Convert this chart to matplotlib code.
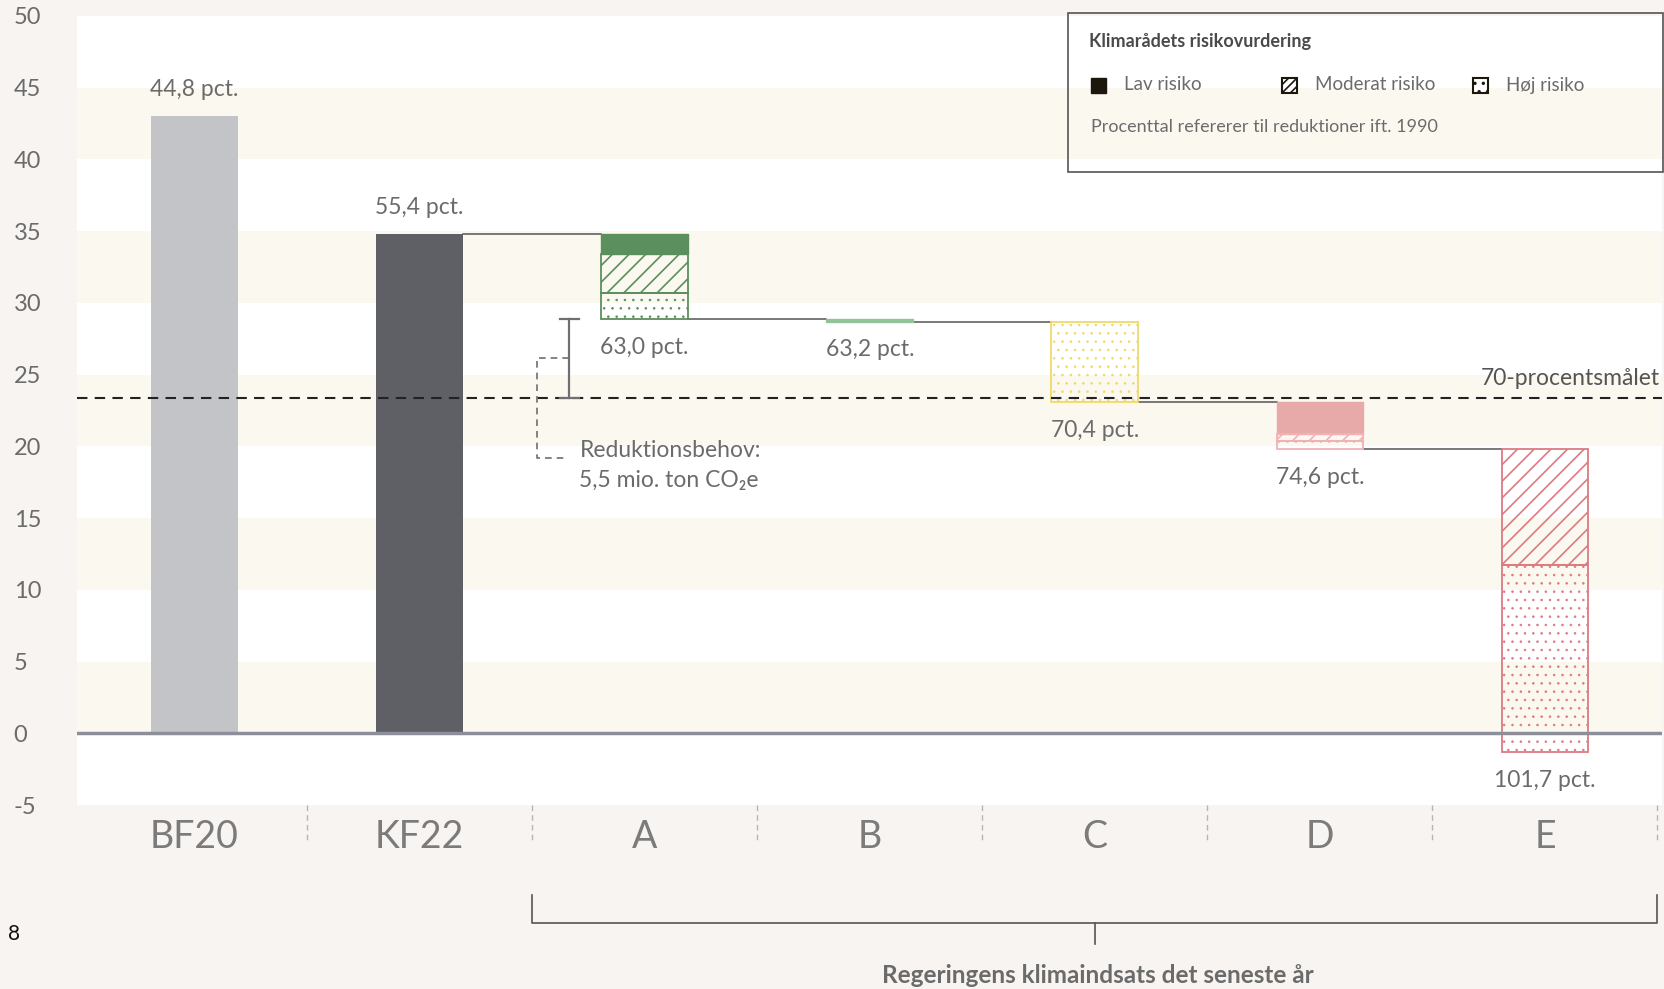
import matplotlib
matplotlib.use('Agg')
import matplotlib.pyplot as plt
import matplotlib.transforms as mtransforms
from matplotlib.patches import Rectangle

# data (mio. ton CO2e)
categories = ['BF20', 'KF22', 'A', 'B', 'C', 'D', 'E']
pct_labels = ['44,8 pct.', '55,4 pct.', '63,0 pct.', '63,2 pct.',
              '70,4 pct.', '74,6 pct.', '101,7 pct.']
base_values = [43.06, 34.79]  # BF20, KF22
low_risk = [1.40, 0.16, 0.00, 2.20, 0.00]       # A..E
moderate_risk = [2.70, 0.00, 0.00, 0.50, 8.10]
high_risk = [1.83, 0.00, 5.61, 0.58, 13.04]
target_70 = 23.4
y_ticks = [50, 45, 40, 35, 30, 25, 20, 15, 10, 5, 0, -5]

plt.rcParams['font.family'] = ['Lato', 'DejaVu Sans']
plt.rcParams['hatch.linewidth'] = 1.2

W, H = 1665, 989
fig = plt.figure(figsize=(16.65, 9.89), dpi=100, facecolor='#f7f4f1')
ax = fig.add_axes([77.5 / W, 1 - 805 / H, (1662 - 77.5) / W, (805 - 16) / H])
ax.set_facecolor('white')
ax.set_xlim(-0.52, 6.52)
ax.set_ylim(-5, 50)
for s in ax.spines.values():
    s.set_visible(False)

# stripes
for y0 in range(0, 45, 10):
    ax.axhspan(y0, y0 + 5, color='#fbf8f0', lw=0, zorder=0)

txt = '#6b6b6b'
bw = 0.385


def thin_dots(bars):
    for p in bars:
        if hasattr(p, 'set_hatch_linewidth'):
            p.set_hatch_linewidth(0.6)


# reference bars
ax.bar(0, base_values[0], bw, color='#c3c4c8', zorder=2)
ax.bar(1, base_values[1], bw, color='#5f6066', zorder=2)
ax.text(0, base_values[0] + 1.85, pct_labels[0], ha='center', va='center', fontsize=16.5, color=txt)
ax.text(1, base_values[1] + 1.85, pct_labels[1], ha='center', va='center', fontsize=16.5, color=txt)

# steps
solid_c = ['#5b8f5d', '#93c497', '#efd96a', '#e8a9a9', '#dd7a82']
line_c = ['#5b8f5d', '#93c497', '#efd96a', '#f0b2b4', '#dd7a82']
level = base_values[1]
prev_right = 1 + bw / 2
for i in range(5):
    x = i + 2
    ax.plot([prev_right, x - bw / 2], [level, level], color='#555555', lw=1.1, zorder=1)
    top = level
    if low_risk[i] > 0:
        ax.bar(x, low_risk[i], bw, bottom=top - low_risk[i], color=solid_c[i],
               edgecolor=solid_c[i], lw=1, zorder=3)
        top -= low_risk[i]
    if moderate_risk[i] > 0:
        ax.bar(x, moderate_risk[i], bw, bottom=top - moderate_risk[i], facecolor='none',
               edgecolor=line_c[i], hatch='//', lw=1.3, zorder=3)
        top -= moderate_risk[i]
    if high_risk[i] > 0:
        b = ax.bar(x, high_risk[i], bw, bottom=top - high_risk[i], facecolor='none',
                   edgecolor=line_c[i], hatch='..', lw=1.3, zorder=3)
        thin_dots(b)
        top -= high_risk[i]
    level = top
    prev_right = x + bw / 2
    ax.text(x, level - 1.95, pct_labels[i + 2], ha='center', va='center', fontsize=16.5, color=txt)

# zero line and target
ax.axhline(0, color='#8c8f99', lw=2.5, zorder=4)
ax.axhline(target_70, color='#222222', lw=1.5, ls=(0, (5, 3.5)), zorder=4)
ax.text(6.51, target_70 + 1.35, '70-procentsmålet', ha='right', va='center', fontsize=16.5, color='#555555')

# reduction need marker
red_x = 1.665
kf_a = base_values[1] - low_risk[0] - moderate_risk[0] - high_risk[0]
ax.plot([red_x, red_x], [target_70, kf_a], color='#6e6e73', lw=1.6, zorder=5)
for yy in (target_70, kf_a):
    ax.plot([red_x - 0.042, red_x + 0.042], [yy, yy], color='#6e6e73', lw=1.6, zorder=5)
mid = (target_70 + kf_a) / 2
ax.plot([red_x, 1.52, 1.52, 1.66], [mid, mid, 19.18, 19.18], color='#6e6e73',
        lw=1.2, ls=(0, (4, 3)), zorder=5)
ax.text(1.71, 19.7, 'Reduktionsbehov:', ha='left', va='center', fontsize=16.5, color=txt)
ax.text(1.71, 17.65, '5,5 mio. ton CO₂e', ha='left', va='center', fontsize=16.5, color=txt)

# ticks
ax.set_yticks(y_ticks)
ax.set_yticklabels([str(v) for v in y_ticks])
ax.tick_params(axis='y', length=0, pad=46, labelsize=17, labelcolor=txt)
for lab in ax.get_yticklabels():
    lab.set_horizontalalignment('left')
ax.set_xticks(range(len(categories)))
ax.set_xticklabels(categories)
ax.tick_params(axis='x', length=0, pad=10, labelsize=27, labelcolor='#7b7b7b')

# separators and bottom bracket
trans = mtransforms.blended_transform_factory(ax.transData, ax.transAxes)
for xs in [0.5, 1.5, 2.5, 3.5, 4.5, 5.5, 6.5]:
    ax.plot([xs, xs], [0, -0.047], transform=trans, clip_on=False,
            color='#b5b5b5', lw=1, ls=(0, (4, 3)))
ax.plot([1.5, 1.5, 6.5, 6.5], [-0.114, -0.150, -0.150, -0.114], transform=trans,
        clip_on=False, color='#555555', lw=1.2)
ax.plot([4.0, 4.0], [-0.150, -0.176], transform=trans, clip_on=False, color='#555555', lw=1.2)
fig.text(1098 / W, 1 - 983 / H, 'Regeringens klimaindsats det seneste år', ha='center',
         va='baseline', fontsize=17.5, fontweight='bold', color=txt)
fig.text(8 / W, 1 - 934 / H, '8', ha='left', va='center', fontsize=15, color='#111111')

# legend box
fig.add_artist(Rectangle((1068 / W, 1 - 172 / H), (1663 - 1068) / W, (172 - 13) / H,
                         transform=fig.transFigure, fill=False, edgecolor='#555555', lw=1.2))
fig.text(1089 / W, 1 - 42 / H, 'Klimarådets risikovurdering', ha='left', va='center',
         fontsize=13, fontweight='bold', color='#4a4a4a')
leg_items = [('Lav risiko', 1091, 1124, None), ('Moderat risiko', 1282, 1315, '////'),
             ('Høj risiko', 1473, 1506, '..')]
for name, sx, tx, hatch in leg_items:
    if hatch is None:
        r = Rectangle((sx / W, 1 - 92.5 / H), 15 / W, 15 / H, transform=fig.transFigure,
                      facecolor='#1c160c', edgecolor='#1c160c', lw=1)
    else:
        r = Rectangle((sx / W, 1 - 92.5 / H), 15 / W, 15 / H, transform=fig.transFigure,
                      facecolor='white', edgecolor='#1c160c', hatch=hatch, lw=1.5)
    fig.add_artist(r)
    fig.text(tx / W, 1 - 85 / H, name, ha='left', va='center', fontsize=13.5, color=txt)
fig.text(1091 / W, 1 - 127 / H, 'Procenttal refererer til reduktioner ift. 1990', ha='left',
         va='center', fontsize=13, color=txt)

fig.savefig('out.png', dpi=100, facecolor=fig.get_facecolor())
